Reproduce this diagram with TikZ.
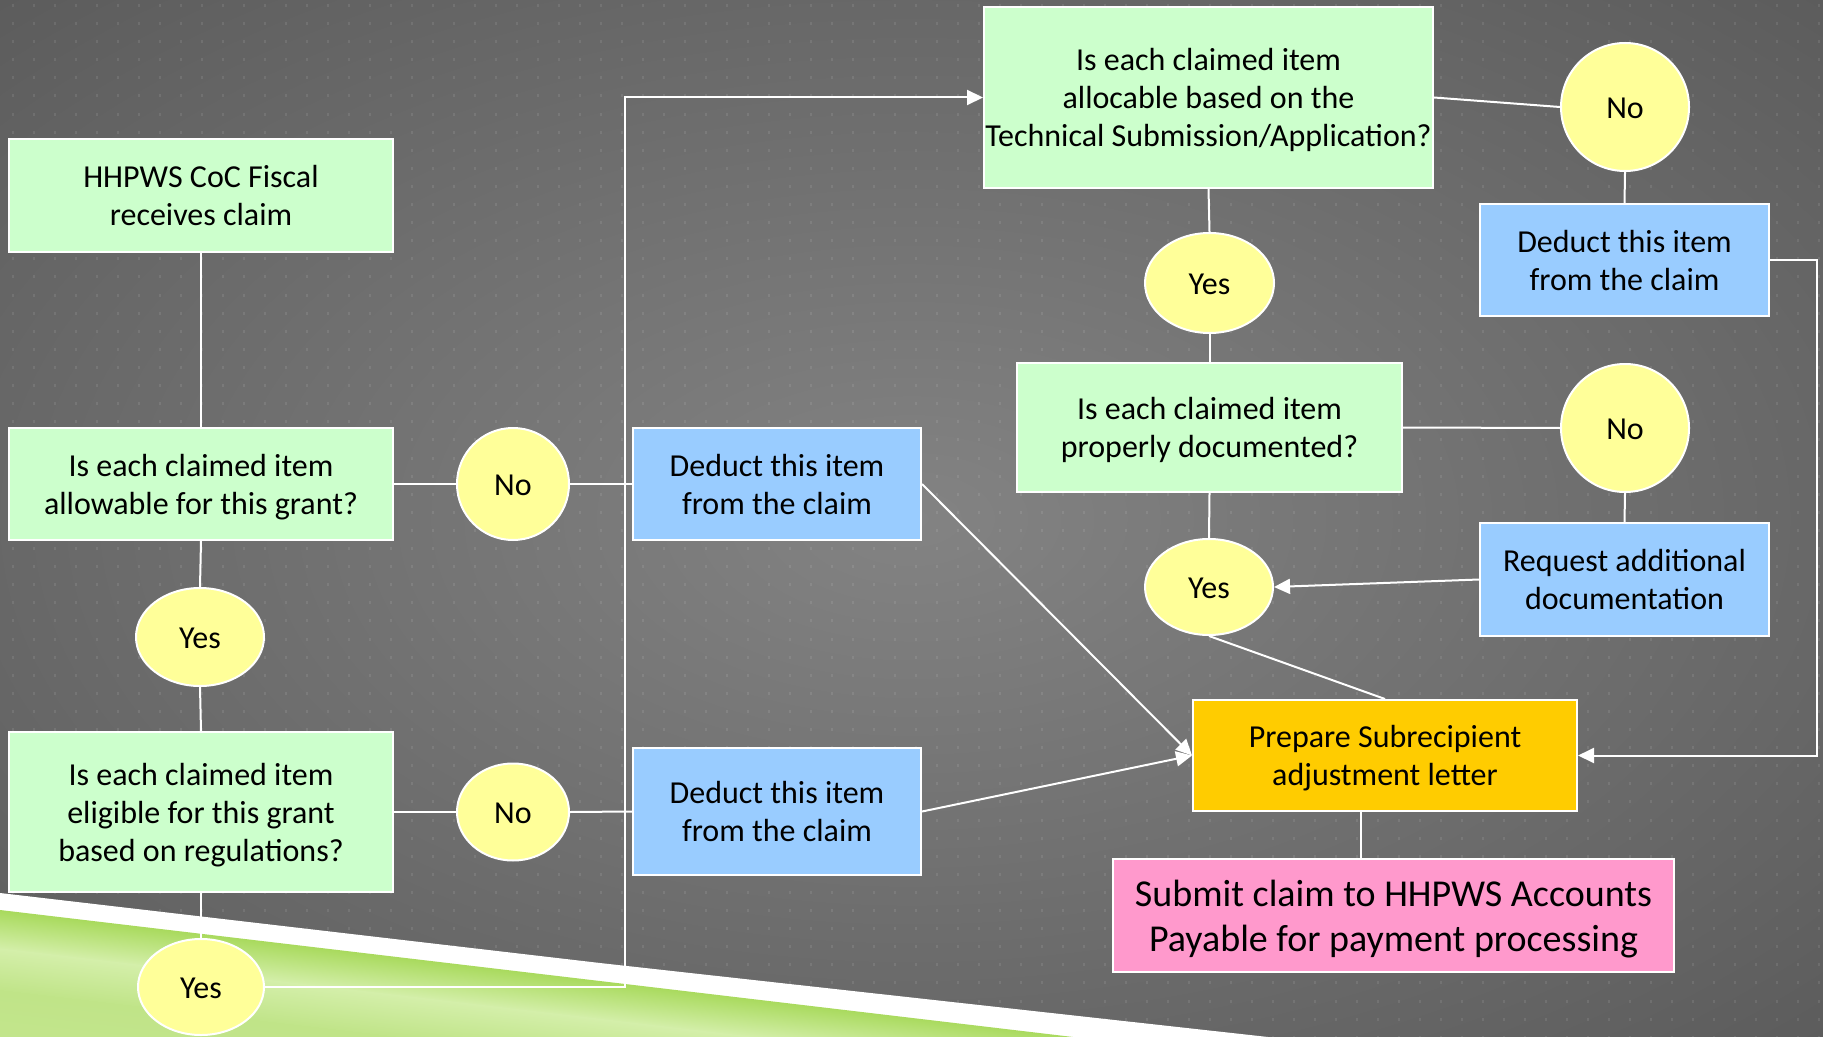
\documentclass[tikz,border=0pt]{standalone}
\usepackage{fontspec}
\setmainfont{Carlito}
\usetikzlibrary{shapes.geometric,arrows.meta}
\definecolor{bgA}{HTML}{838383}
\definecolor{bgB}{HTML}{4C4C4C}
\definecolor{bgC}{HTML}{3A3A3A}
\definecolor{gboxc}{HTML}{CCFFCC}
\definecolor{bboxc}{HTML}{99CCFF}
\definecolor{ylwc}{HTML}{FFFF99}
\definecolor{orgc}{HTML}{FFCC00}
\definecolor{pnkc}{HTML}{FF99CC}
\definecolor{grnA}{HTML}{A3D753}
\definecolor{grnB}{HTML}{D4EFAA}
\definecolor{grnC}{HTML}{C0E488}
\definecolor{grnD}{HTML}{CDEA9E}
\pgfdeclareradialshading{bgshade}{\pgfpoint{0bp}{0bp}}{color(0bp)=(bgA); color(50bp)=(bgB); color(71bp)=(bgC)}
\newcommand\mainsz{\fontsize{16}{19}\selectfont}
\newcommand\subsz{\fontsize{19}{22.5}\selectfont}
\newcommand\lns[2][16.9pt]{\begin{tabular}{@{}c@{}}\rule{0pt}{#1}#2\end{tabular}}
\tikzset{
  box/.style={draw=white, line width=1pt, inner sep=0pt, font=\mainsz, text=black},
  gbox/.style={box, fill=gboxc},
  bbox/.style={box, fill=bboxc},
  yn/.style={ellipse, draw=white, line width=1pt, fill=ylwc, inner sep=0pt, font=\mainsz, text=black},
  con/.style={draw=white, line width=1pt},
  arr/.style={con, -{Triangle[length=8pt,width=7.5pt]}}
}
\begin{document}
\begin{tikzpicture}[x=0.5pt,y=-0.5pt]
\useasboundingbox (0,0) rectangle (1823,1037);
% background
\shade[shading=bgshade] (0,0) rectangle (1823,1037);
\begin{scope}[fill=white, fill opacity=0.09]
\foreach \i in {0,...,86}{\foreach \j in {0,...,57}{\fill (12+21*\i,4+18.1*\j) rectangle ++(2,3);}}
\end{scope}
% bottom-left band
\fill[white] (0,893) -- (600,963) -- (1268,1037) -- (0,1037) -- cycle;
\begin{scope}
\clip (0,910) -- (1073,1037) -- (0,1037) -- cycle;
\begin{scope}[transform canvas={rotate around={-6.7:(0,910)}}]
\shade[top color=grnA, bottom color=grnB] (-300,905) rectangle (1500,949);
\shade[top color=grnB, bottom color=grnC] (-300,948) rectangle (1500,991);
\shade[top color=grnC, bottom color=grnD] (-300,990) rectangle (1500,1250);
\end{scope}
\end{scope}

% nodes
\node[gbox, minimum width=192pt, minimum height=56.5pt] (A) at (201,195.5) {\lns{HHPWS CoC Fiscal\\receives claim}};
\node[gbox, minimum width=192pt, minimum height=56pt] (B) at (201,484) {\lns{Is each claimed item\\allowable for this grant?}};
\node[yn, minimum width=64pt, minimum height=49pt] (Y1) at (200,637) {\lns{Yes}};
\node[gbox, minimum width=192pt, minimum height=80pt] (C) at (201,812) {\lns{Is each claimed item\\eligible for this grant\\based on regulations?}};
\node[yn, minimum width=63pt, minimum height=48pt] (Y2) at (201,987) {\lns{Yes}};
\node[yn, minimum width=56pt, minimum height=56pt] (N1) at (513,484) {\lns{No}};
\node[yn, minimum width=56pt, minimum height=48.5pt] (N2) at (513,812) {\lns{No}};
\node[bbox, minimum width=144pt, minimum height=56pt] (D1) at (777,484) {\lns{Deduct this item\\from the claim}};
\node[bbox, minimum width=144pt, minimum height=63.5pt] (D2) at (777,811.5) {\lns{Deduct this item\\from the claim}};
\node[gbox, minimum width=224.5pt, minimum height=90.5pt] (T) at (1208.5,97.5) {\lns{Is each claimed item\\allocable based on the\\Technical Submission/Application?}};
\node[yn, minimum width=64.5pt, minimum height=50pt] (Y3) at (1209.5,283) {\lns{Yes}};
\node[gbox, minimum width=192.5pt, minimum height=64.5pt] (P) at (1209.5,427.5) {\lns{Is each claimed item\\properly documented?}};
\node[yn, minimum width=64pt, minimum height=48pt] (Y4) at (1209,587) {\lns{Yes}};
\node[yn, minimum width=64pt, minimum height=64pt] (N3) at (1625,107) {\lns{No}};
\node[bbox, minimum width=144.5pt, minimum height=56pt] (D3) at (1624.5,260) {\lns{Deduct this item\\from the claim}};
\node[yn, minimum width=64pt, minimum height=64pt] (N4) at (1625,428) {\lns{No}};
\node[bbox, minimum width=144.5pt, minimum height=56.5pt] (R) at (1624.5,579.5) {\lns{Request additional\\documentation}};
\node[box, fill=orgc, minimum width=192pt, minimum height=55.5pt] (Pr) at (1385,755.5) {\lns{Prepare Subrecipient\\adjustment letter}};
\node[box, fill=pnkc, font=\subsz, minimum width=280.5pt, minimum height=56.5pt] (S) at (1393.5,915.5) {\lns[20.45pt]{Submit claim to HHPWS Accounts\\Payable for payment processing}};

% helper coordinates
\coordinate (bend) at (625,987);
\coordinate (rloop) at (1817,260);
\coordinate (sx) at (1361,0);

% connectors
\draw[con] (A.south) -- (B.north);
\draw[con] (B.south) -- (Y1.north);
\draw[con] (Y1.south) -- (C.north);
\draw[con] (C.south) -- (Y2.north);
\draw[con] (B.east) -- (N1.west);
\draw[con] (N1.east) -- (D1.west);
\draw[con] (C.east) -- (N2.west);
\draw[con] (N2.east) -- (D2.west);
\draw[arr] (Y2.east) -- (bend) |- (T.west);
\draw[con] (T.south) -- (Y3.north);
\draw[con] (Y3.south) -- (P.north);
\draw[con] (P.south) -- (Y4.north);
\draw[con] (T.east) -- (N3.west);
\draw[con] (N3.south) -- (D3.north);
\draw[arr] (D3.east) -- (rloop) |- (Pr.east);
\draw[con] (P.east) -- (N4.west);
\draw[con] (N4.south) -- (R.north);
\draw[arr] (R.west) -- (Y4.east);
\draw[con] (Y4.south) -- (Pr.north);
\draw[arr] (D1.east) -- (Pr.west);
\draw[arr] (D2.east) -- (Pr.west);
\draw[con] (Pr.south -| sx) -- (S.north -| sx);
\end{tikzpicture}
\end{document}
